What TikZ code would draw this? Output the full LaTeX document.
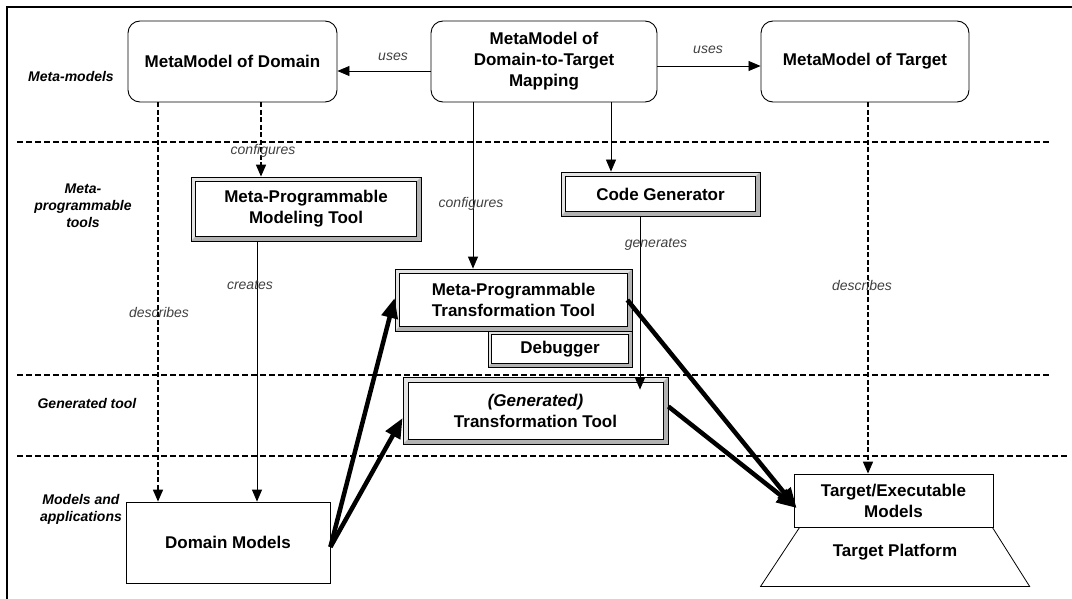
\documentclass[tikz,border=0pt]{standalone}
\usepackage{fontspec}
\setmainfont{Liberation Sans}
\usetikzlibrary{arrows.meta,calc}

\tikzset{
  boxfont/.style={font=\bfseries\fontsize{17}{21}\selectfont},
  metabox/.style={draw, line width=0.9pt, rounded corners=12pt, align=center,
    inner sep=0pt, boxfont},
  % raised frame: outer outline, grey bevel (darker at right and bottom), inner outline
  toolbox/.style={draw, line width=0.8pt, fill=gray!22, align=center, inner sep=0pt, boxfont,
    path picture={
      \coordinate (bSW) at (path picture bounding box.south west);
      \coordinate (bNE) at (path picture bounding box.north east);
      \coordinate (bSE) at (path picture bounding box.south east);
      \fill[gray!60] (bSE) -- ([xshift=-#1, yshift=#1]bSE) -- ([xshift=-#1, yshift=-#1]bNE) -- (bNE) -- cycle;
      \fill[gray!60] (bSW) -- ([xshift=#1, yshift=#1]bSW) -- ([xshift=-#1, yshift=#1]bSE) -- (bSE) -- cycle;
      \filldraw[fill=white, line width=0.8pt] ([xshift=#1, yshift=#1]bSW) rectangle ([xshift=-#1, yshift=-#1]bNE);
    }},
  toolbox/.default=4.5pt,
  plainbox/.style={draw, line width=0.8pt, fill=white, align=center,
    inner sep=0pt, boxfont},
  edgelbl/.style={font=\itshape\fontsize{14}{17}\selectfont, text=black!75, inner sep=1pt},
  rowlbl/.style={font=\bfseries\itshape\fontsize{14}{17}\selectfont, align=center, inner sep=0pt},
  arr/.style={-{Triangle[length=12pt,width=10pt]}, line width=0.8pt},
  dasharr/.style={-{Triangle[length=12pt,width=10pt]}, line width=1.6pt,
    dash pattern=on 5pt off 2.5pt},
  bigarr/.style={-{Triangle[length=20pt,width=16pt]}, line width=4.5pt},
  separator/.style={line width=1.5pt, dash pattern=on 6pt off 3pt},
}

\begin{document}
\begin{tikzpicture}[x=1pt,y=-1pt]
\useasboundingbox (0,0) rectangle (1072,599);

% outer frame
\draw[line width=1.2pt] (7,599) -- (7,7) -- (1072,7);

% layer separators
\draw[separator] (17,142) -- (1050,142);
\draw[separator] (17,375) -- (1050,375);
\draw[separator] (17,456) -- (1068,456);

% layer titles
\node[rowlbl] (rMeta) at (71,77) {Meta-models};
\node[rowlbl] (rTools) at (83,206) {Meta-\\programmable\\tools};
\node[rowlbl] (rGen) at (87,403) {Generated tool};
\node[rowlbl] (rModels) at (81,509) {Models and\\applications};

% meta-models
\node[metabox, minimum width=209pt, minimum height=81pt] (dom) at (232.5,61.5) {MetaModel of Domain};
\node[metabox, minimum width=226pt, minimum height=81pt] (map) at (544,61.5) {MetaModel of\\Domain-to-Target\\Mapping};
\node[metabox, minimum width=208pt, minimum height=81pt] (tgt) at (865,61.5) {MetaModel of Target};

% meta-programmable tools
\node[toolbox, minimum width=230pt, minimum height=64pt] (mpmt) at (306,209) {Meta-Programmable\\Modeling Tool};
\node[toolbox, minimum width=199pt, minimum height=44pt] (cg) at (660.5,194) {Code Generator};
\node[toolbox, minimum width=237pt, minimum height=62pt] (mptt) at (513.5,300) {Meta-Programmable\\Transformation Tool};
\node[toolbox=3.5pt, minimum width=144pt, minimum height=36pt] (dbg) at (560,349) {Debugger};

% generated tool
\node[toolbox=5pt, minimum width=265pt, minimum height=67pt] (gtt) at (535.5,410.5) {\textit{(Generated)}\\Transformation Tool};

% models and applications
\node[plainbox, minimum width=204pt, minimum height=81pt] (dm) at (228,542.5) {Domain Models};
\node[plainbox, minimum width=199pt, minimum height=53pt] (tem) at (893.5,500.5) {Target/Executable\\Models};
\draw[line width=0.8pt] ([xshift=6pt]tem.south west) -- ++(-39,59) -- ++(269,0) -- ([xshift=-1pt]tem.south east);
\node[boxfont] (plat) at (895,552) {Target Platform};

% uses relations
\draw[arr] ([yshift=-9.5pt]map.west) -- ([yshift=-9.5pt]map.west -| dom.east);
\node[edgelbl] (u1) at (393,57) {uses};
\draw[arr] ([yshift=-4.5pt]map.east) -- ([yshift=-4.5pt]map.east -| tgt.west);
\node[edgelbl] (u2) at (708,50) {uses};

% domain side
\draw[dasharr] (dom.south -| 158,0) -- (dm.north -| 158,0);
\node[edgelbl] (d1) at (159,312) {describes};
\draw[dasharr] (dom.south -| 261,0) -- (mpmt.north -| 261,0);
\node[edgelbl] (c1) at (263,151) {configures};
\draw[arr] (mpmt.south -| 257,0) -- (dm.north -| 257,0);
\node[edgelbl] (cr) at (250,285) {creates};

% mapping side
\draw[arr] (map.south -| 473,0) -- (mptt.north -| 473,0);
\node[edgelbl] (c2) at (471,204) {configures};
\draw[arr] (map.south -| 611,0) -- (cg.north -| 611,0);
\draw[arr] (cg.south -| 640,0) -- ([yshift=-13pt]gtt.north -| 640,0);
\node[edgelbl] (g1) at (656,244) {generates};

% target side
\draw[dasharr] (tgt.south -| 868,0) -- (tem.north -| 868,0);
\node[edgelbl] (d2) at (862,285) {describes};

% transformation flows
\draw[bigarr] ([yshift=-4.5pt]dm.east) -- ([yshift=2pt]mptt.west);
\draw[bigarr] ([yshift=-4.5pt]dm.east) -- ([yshift=-7.5pt]gtt.west);
\draw[bigarr] ([xshift=-5pt]mptt.east) -- ([yshift=-7.5pt, xshift=3pt]tem.west);
\draw[bigarr] ([yshift=4pt]gtt.east) -- ([yshift=-7.5pt, xshift=3pt]tem.west);
\end{tikzpicture}
\end{document}
